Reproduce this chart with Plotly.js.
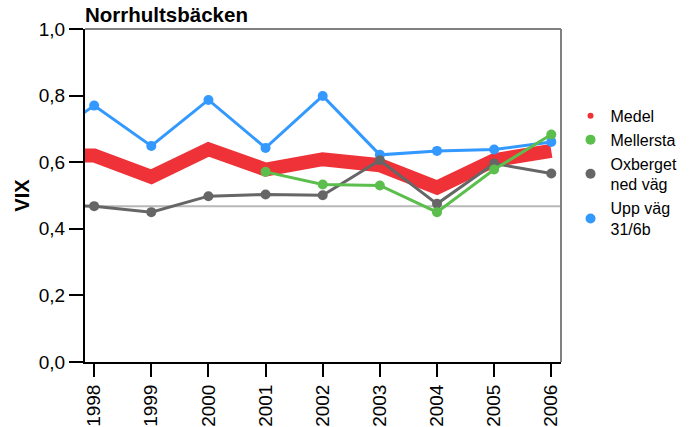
<!DOCTYPE html>
<html>
<head>
<meta charset="utf-8">
<script src="https://cdn.plot.ly/plotly-3.0.1.min.js"></script>
<style>
html,body{margin:0;padding:0;background:#fff;}
#chart{width:695px;height:427px;}
</style>
</head>
<body>
<div id="chart"></div>
<script>
// ---- data ----
const years = [1997, 1998, 1999, 2000, 2001, 2002, 2003, 2004, 2005, 2006];
const medel     = [0.62, 0.62, 0.556, 0.639, 0.578, 0.609, 0.591, 0.524, 0.606, 0.634];
const mellersta = [null, null, null, null, 0.571, 0.533, 0.530, 0.450, 0.578, 0.683];
const oxberget  = [0.470, 0.468, 0.450, 0.498, 0.503, 0.501, 0.606, 0.475, 0.596, 0.566];
const uppVag    = [0.649, 0.770, 0.649, 0.787, 0.643, 0.799, 0.622, 0.634, 0.638, 0.661];
const refLevel = 0.468;
const seriesNames = ['Medel', 'Mellersta', 'Oxberget<br>ned väg', 'Upp väg<br>31/6b'];
const xTickVals = [1998, 1999, 2000, 2001, 2002, 2003, 2004, 2005, 2006];
const xTickText = ['1998', '1999', '2000', '2001', '2002', '2003', '2004', '2005', '2006'];
const yTickVals = [0, 0.2, 0.4, 0.6, 0.8, 1.0];
const yTickText = ['0,0', '0,2', '0,4', '0,6', '0,8', '1,0'];

const RED = 'rgb(238,50,56)', GREEN = 'rgb(92,190,76)', GRAY = 'rgb(102,102,102)', BLUE = 'rgb(51,153,255)';
const FONT = 'Liberation Sans, Arial, Helvetica, sans-serif';

const traces = [
  {x: years, y: medel, mode: 'lines', line: {color: RED, width: 14}, showlegend: false, hoverinfo: 'skip'},
  {x: years, y: uppVag, mode: 'lines+markers', line: {color: BLUE, width: 3}, marker: {color: BLUE, size: 10}, showlegend: false},
  {x: years, y: oxberget, mode: 'lines+markers', line: {color: GRAY, width: 3}, marker: {color: GRAY, size: 10}, showlegend: false},
  {x: years, y: mellersta, mode: 'lines+markers', line: {color: GREEN, width: 3}, marker: {color: GREEN, size: 10}, showlegend: false, connectgaps: false},
  // legend entries (dots only)
  {x: [null], y: [null], mode: 'markers', name: seriesNames[0], marker: {color: RED, size: 6}},
  {x: [null], y: [null], mode: 'markers', name: seriesNames[1], marker: {color: GREEN, size: 10}},
  {x: [null], y: [null], mode: 'markers', name: seriesNames[2], marker: {color: GRAY, size: 10}},
  {x: [null], y: [null], mode: 'markers', name: seriesNames[3], marker: {color: BLUE, size: 10}}
];

const layout = {
  width: 695, height: 427,
  margin: {l: 85, r: 134, t: 29, b: 65, pad: 0},
  paper_bgcolor: '#fff', plot_bgcolor: '#fff',
  font: {family: FONT, color: '#000', size: 19},
  title: {text: '<b>Norrhultsbäcken</b>', x: 0, xref: 'paper', xanchor: 'left', y: 1 - 15/427, yref: 'container', yanchor: 'middle',
          font: {family: FONT, size: 20.5, color: '#000'}},
  xaxis: {
    range: [1997.84, 2006.17], tickvals: xTickVals, ticktext: xTickText, tickangle: -90,
    showline: true, linecolor: '#000', linewidth: 2, ticks: 'outside', ticklen: 13, tickwidth: 2, tickcolor: '#000',
    showgrid: false, zeroline: false, tickfont: {size: 19, family: FONT, color: '#000'}
  },
  yaxis: {
    range: [0, 1], tickvals: yTickVals, ticktext: yTickText,
    showline: true, linecolor: '#000', linewidth: 2, ticks: 'outside', ticklen: 14, tickwidth: 2, tickcolor: '#000',
    showgrid: false, zeroline: false, tickfont: {size: 19, family: FONT, color: '#000'},
    title: {text: '<b>VIX</b>', font: {size: 20, family: FONT, color: '#000'}, standoff: 4}
  },
  showlegend: true,
  legend: {x: 1.02, xanchor: 'left', y: 0.79, yanchor: 'top', font: {size: 16, family: FONT, color: '#000'},
           bgcolor: 'rgba(0,0,0,0)', itemwidth: 30},
  shapes: [
    {type: 'line', xref: 'paper', yref: 'y', x0: 0, x1: 1, y0: refLevel, y1: refLevel, line: {color: '#b8b8b8', width: 2}, layer: 'below'},
    {type: 'line', xref: 'paper', yref: 'paper', x0: 0, x1: 1, y0: 1, y1: 1, line: {color: '#808080', width: 2}},
    {type: 'line', xref: 'paper', yref: 'paper', x0: 1, x1: 1, y0: 0, y1: 1, line: {color: '#808080', width: 2}}
  ]
};

Plotly.newPlot('chart', traces, layout, {displayModeBar: false, staticPlot: true});
</script>
</body>
</html>
